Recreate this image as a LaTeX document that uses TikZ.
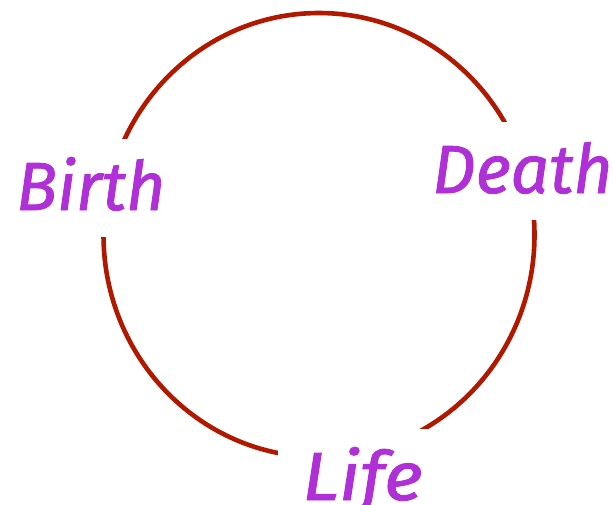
\documentclass[tikz,border=0pt]{standalone}
\usepackage{fontspec}
\setmainfont{Fira Sans}
\newfontfamily\lblfont{Fira Sans}[ItalicFeatures={FakeBold=1.2}]
\definecolor{ringred}{RGB}{176,24,0}
\definecolor{labelpurple}{RGB}{176,48,216}
\begin{document}
\begin{tikzpicture}[x=1pt,y=-1pt,
  lbl/.style={fill=white, text=labelpurple, font=\lblfont\fontsize{68}{68}\selectfont\itshape,
    anchor=base west, inner sep=0pt, text height=71pt, text depth=27pt, inner xsep=22pt}]
\useasboundingbox (0,0) rectangle (613,504);
\draw[ringred, line width=4.6pt] (319,235) ellipse [x radius=215.5, y radius=222];
\node[lbl] (birth) at (-6,210) {Birth};
\node[lbl] (death) at (410,193) {Death};
\node[lbl, xscale=1.1, anchor=base west] (life) at (278,500) {Life};
\end{tikzpicture}
\end{document}
